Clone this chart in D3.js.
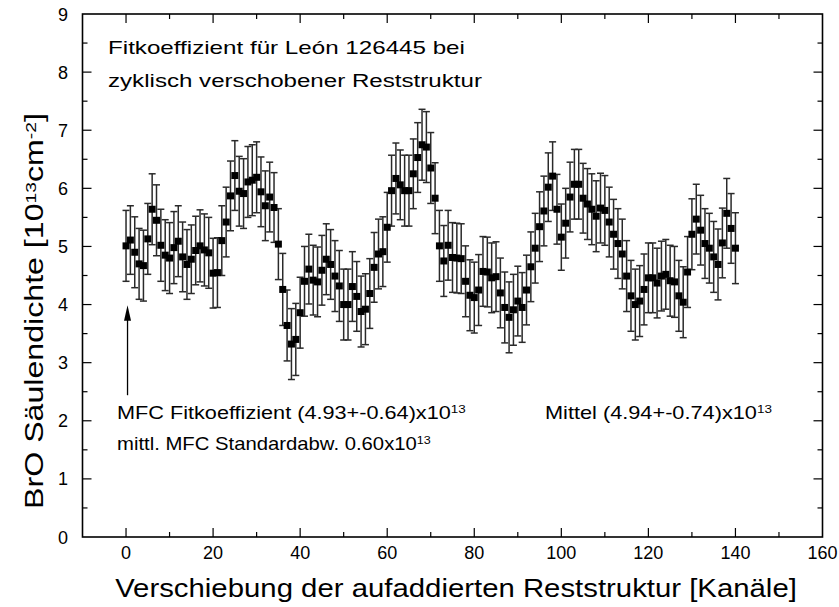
<!DOCTYPE html>
<html>
<head>
<meta charset="utf-8">
<script src="https://cdn.jsdelivr.net/npm/d3@7"></script>
<style>
  html, body { margin: 0; padding: 0; background: #fff; }
  svg text { font-family: "Liberation Sans", Arial, Helvetica, sans-serif; fill: #000; }
</style>
</head>
<body>
<svg id="chart" width="839" height="607"></svg>
<script>
// BrO column density fitted for each cyclic shift of the summed residual structure
const bro = [
  5.01, 5.11, 4.90, 4.70, 4.67, 5.13, 5.64, 5.45, 5.02, 4.85,
  4.80, 4.98, 5.09, 4.82, 4.69, 4.78, 4.93, 5.01, 4.94, 4.89,
  4.54, 4.55, 5.10, 5.42, 5.87, 6.22, 5.95, 5.91, 6.11, 6.14,
  6.19, 5.94, 5.70, 5.85, 5.67, 5.04, 4.26, 3.64, 3.32, 3.40,
  3.86, 4.40, 4.61, 4.42, 4.39, 4.59, 4.78, 4.69, 4.49, 4.32,
  4.00, 4.00, 4.31, 4.14, 3.88, 3.92, 4.19, 4.64, 4.87, 4.91,
  5.33, 5.96, 6.17, 6.06, 5.96, 5.96, 6.25, 6.53, 6.75, 6.71,
  6.35, 5.83, 5.01, 4.75, 5.02, 4.81, 4.80, 4.79, 4.40, 4.16,
  4.12, 4.25, 4.57, 4.56, 4.46, 4.48, 4.20, 3.95, 3.78, 3.91,
  4.06, 3.95, 4.25, 4.65, 4.97, 5.34, 5.61, 6.02, 6.21, 5.64,
  5.16, 5.40, 5.85, 6.07, 6.07, 5.83, 5.73, 5.64, 5.52, 5.66,
  5.62, 5.42, 5.21, 5.05, 4.87, 4.49, 4.15, 4.00, 4.06, 4.26,
  4.46, 4.46, 4.37, 4.49, 4.52, 4.41, 4.39, 4.15, 4.04, 4.56,
  5.21, 5.47, 5.28, 5.05, 4.97, 4.82, 4.69, 5.06, 5.57, 5.31,
  4.97
];

// MFC standard deviation of each fit
const broErr = [
  0.61, 0.59, 0.61, 0.61, 0.61, 0.61, 0.61, 0.61, 0.62, 0.61,
  0.61, 0.62, 0.61, 0.60, 0.60, 0.59, 0.59, 0.62, 0.62, 0.61,
  0.60, 0.60, 0.60, 0.60, 0.60, 0.60, 0.60, 0.60, 0.61, 0.61,
  0.61, 0.60, 0.60, 0.60, 0.60, 0.61, 0.62, 0.61, 0.61, 0.62,
  0.61, 0.60, 0.60, 0.60, 0.60, 0.60, 0.61, 0.60, 0.61, 0.61,
  0.61, 0.61, 0.60, 0.60, 0.61, 0.61, 0.60, 0.60, 0.60, 0.60,
  0.60, 0.61, 0.61, 0.60, 0.61, 0.61, 0.60, 0.60, 0.61, 0.61,
  0.61, 0.61, 0.61, 0.61, 0.60, 0.60, 0.60, 0.60, 0.61, 0.61,
  0.61, 0.61, 0.60, 0.60, 0.60, 0.60, 0.60, 0.61, 0.61, 0.61,
  0.60, 0.60, 0.60, 0.60, 0.60, 0.60, 0.60, 0.59, 0.59, 0.60,
  0.57, 0.60, 0.60, 0.60, 0.60, 0.60, 0.61, 0.61, 0.61, 0.60,
  0.60, 0.60, 0.60, 0.60, 0.60, 0.61, 0.61, 0.61, 0.61, 0.61,
  0.60, 0.60, 0.60, 0.60, 0.60, 0.61, 0.61, 0.61, 0.61, 0.61,
  0.61, 0.60, 0.60, 0.60, 0.60, 0.61, 0.61, 0.60, 0.60, 0.60,
  0.61
];

const xTicks = [0, 20, 40, 60, 80, 100, 120, 140, 160];
const yTicks = [0, 1, 2, 3, 4, 5, 6, 7, 8, 9];
const xDomain = [-10, 160];
const yDomain = [0, 9];

(function draw() {
  const svg = d3.select("#chart");
  const pLeft = 82.5, pRight = 822.5, pTop = 14, pBottom = 537;

  const x = d3.scaleLinear().domain(xDomain).range([pLeft, pRight]);
  const y = d3.scaleLinear().domain(yDomain).range([pBottom, pTop]);

  // text placed at (0,0) inside a group; the group is stretched along the
  // text direction so that the line spans the requested width
  function stretchedText(transform, fontSize, width, anchor) {
    const g = svg.append("g");
    const t = g.append("text").attr("x", 0).attr("y", 0)
      .attr("font-size", fontSize).attr("text-anchor", anchor || "start");
    return {
      text: t,
      fit() {
        const w = t.node().getBBox().width;
        g.attr("transform", `${transform} scale(${(width / w).toFixed(4)},1)`);
        return t;
      }
    };
  }

  // minor tick positions
  const xMinor = d3.range(0, 160, 10).filter(v => v % 20 !== 0);
  const yMinor = d3.range(0.5, 9, 1);

  const majorLen = 9, minorLen = 5;

  // frame
  svg.append("rect")
    .attr("x", pLeft).attr("y", pTop)
    .attr("width", pRight - pLeft).attr("height", pBottom - pTop)
    .attr("fill", "none").attr("stroke", "#000").attr("stroke-width", 1.6);

  // inward ticks on all four sides
  const tickG = svg.append("g").attr("stroke", "#000").attr("stroke-width", 1.2);
  function xTick(v, len) {
    tickG.append("line").attr("x1", x(v)).attr("x2", x(v)).attr("y1", pBottom).attr("y2", pBottom - len);
    tickG.append("line").attr("x1", x(v)).attr("x2", x(v)).attr("y1", pTop).attr("y2", pTop + len);
  }
  function yTick(v, len) {
    tickG.append("line").attr("y1", y(v)).attr("y2", y(v)).attr("x1", pLeft).attr("x2", pLeft + len);
    tickG.append("line").attr("y1", y(v)).attr("y2", y(v)).attr("x1", pRight).attr("x2", pRight - len);
  }
  xTicks.filter(v => v < 160).forEach(v => xTick(v, majorLen));
  xMinor.forEach(v => xTick(v, minorLen));
  yTicks.filter(v => v > 0 && v < 9).forEach(v => yTick(v, majorLen));
  yMinor.forEach(v => yTick(v, minorLen));

  // tick labels
  svg.append("g").selectAll("text").data(xTicks).join("text")
    .attr("x", d => x(d)).attr("y", 559)
    .attr("text-anchor", "middle")
    .attr("font-size", 18)
    .text(d => d);

  svg.append("g").selectAll("text").data(yTicks).join("text")
    .attr("x", 68).attr("y", d => y(d) + 6.5)
    .attr("text-anchor", "end")
    .attr("font-size", 18)
    .text(d => d);

  // axis titles
  const xl = stretchedText("translate(456,597)", 25, 682, "middle");
  xl.text.text("Verschiebung der aufaddierten Reststruktur [Kanäle]");
  xl.fit();

  const yl = stretchedText("translate(43,311) rotate(-90)", 25, 396, "middle");
  yl.text.append("tspan").text("BrO Säulendichte [10");
  yl.text.append("tspan").attr("font-size", "0.6em").attr("dy", "-0.45em").text("13");
  yl.text.append("tspan").attr("dy", "0.27em").text("cm");
  yl.text.append("tspan").attr("font-size", "0.6em").attr("dy", "-0.45em").text("-2");
  yl.text.append("tspan").attr("dy", "0.27em").text("]");
  yl.fit();

  // error bars
  const pts = bro.map((v, i) => ({ shift: i, v, e: broErr[i] }));
  const capW = 3.5;
  const eb = svg.append("g").attr("stroke", "#2a2a2a").attr("stroke-width", 1.5);
  eb.selectAll("line.v").data(pts).join("line").attr("class", "v")
    .attr("x1", d => x(d.shift)).attr("x2", d => x(d.shift))
    .attr("y1", d => y(d.v + d.e)).attr("y2", d => y(d.v - d.e));
  eb.selectAll("line.t").data(pts).join("line").attr("class", "t")
    .attr("x1", d => x(d.shift) - capW).attr("x2", d => x(d.shift) + capW)
    .attr("y1", d => y(d.v + d.e)).attr("y2", d => y(d.v + d.e));
  eb.selectAll("line.b").data(pts).join("line").attr("class", "b")
    .attr("x1", d => x(d.shift) - capW).attr("x2", d => x(d.shift) + capW)
    .attr("y1", d => y(d.v - d.e)).attr("y2", d => y(d.v - d.e));

  // square markers
  const sq = 7;
  svg.append("g").selectAll("rect").data(pts).join("rect")
    .attr("x", d => x(d.shift) - sq / 2).attr("y", d => y(d.v) - sq / 2)
    .attr("width", sq).attr("height", sq).attr("fill", "#000");

  // annotations
  const t1 = stretchedText("translate(108,54)", 19, 357);
  t1.text.text("Fitkoeffizient für León 126445 bei");
  t1.fit();
  const t2 = stretchedText("translate(108,87)", 19, 375);
  t2.text.text("zyklisch verschobener Reststruktur");
  t2.fit();

  function sciText(tx, ty, base, exp, width) {
    const s = stretchedText(`translate(${tx},${ty})`, 18.5, width);
    s.text.append("tspan").text(base);
    s.text.append("tspan").attr("font-size", "0.62em").attr("dy", "-0.55em").text(exp);
    s.fit();
  }
  sciText(117, 419, "MFC Fitkoeffizient (4.93+-0.64)x10", "13", 349);
  sciText(117, 450, "mittl. MFC Standardabw. 0.60x10", "13", 314);
  sciText(545, 419, "Mittel (4.94+-0.74)x10", "13", 227);

  // arrow marking the unshifted fit
  const arrowX = x(0) + 1.5;
  svg.append("line")
    .attr("x1", arrowX).attr("x2", arrowX)
    .attr("y1", y(2.44)).attr("y2", y(3.8))
    .attr("stroke", "#000").attr("stroke-width", 1.3);
  svg.append("path")
    .attr("d", `M${arrowX},${y(3.99)} L${arrowX - 3.5},${y(3.72)} L${arrowX + 3.5},${y(3.72)} Z`)
    .attr("fill", "#000");
})();
</script>
</body>
</html>
